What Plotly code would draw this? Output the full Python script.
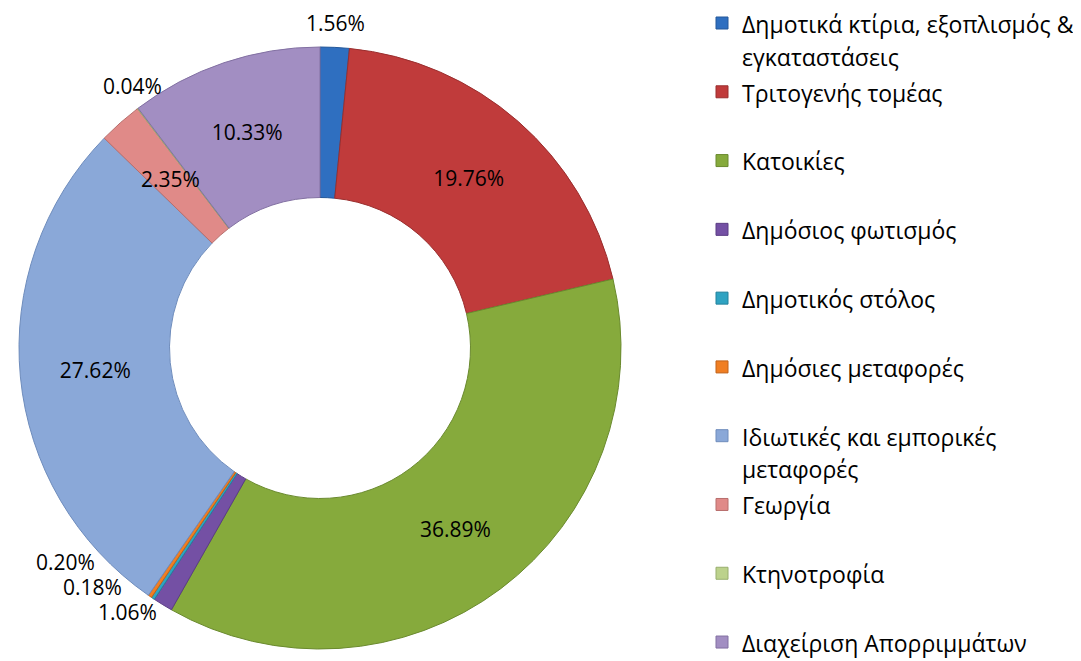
import math
import plotly.graph_objects as go

categories = [
    "Δημοτικά κτίρια, εξοπλισμός &<br>εγκαταστάσεις",
    "Τριτογενής τομέας",
    "Κατοικίες",
    "Δημόσιος φωτισμός",
    "Δημοτικός στόλος",
    "Δημόσιες μεταφορές",
    "Ιδιωτικές και εμπορικές<br>μεταφορές",
    "Γεωργία",
    "Κτηνοτροφία",
    "Διαχείριση Απορριμμάτων",
]
values = [1.56, 19.76, 36.89, 1.06, 0.18, 0.20, 27.62, 2.35, 0.04, 10.33]
colors = ["#2F6FC0", "#C03B3B", "#86AA3C", "#7450A4", "#2FA3C2", "#F07E22",
          "#8AA8D8", "#E08A88", "#BCD28C", "#A28EC2"]
edge = ["#24589A", "#9A2E2E", "#6A8A2E", "#5A3C84", "#23829C", "#C0621A",
        "#6E8CBC", "#B86E6C", "#98AE6E", "#8270A2"]
# label placement per slice: "inside" drawn by plotly, "ring" / "outside" as annotations
placement = ["outside", "inside", "inside", "outside", "outside", "outside",
             "inside", "ring", "outside", "inside"]

W, H = 1081, 661
dom_x = [11 / W, 613 / W]
dom_y = [1 - 641 / H, 1 - 39 / H]
HOLE = 0.5

legend_labels = []
for i, c in enumerate(categories):
    txt = "<span style='font-size:23px'>" + c + "</span>"
    if c.count("<br>") == 0 and i < len(categories) - 1:
        txt += "<br> "
    legend_labels.append(txt)

pct = [f"{v:.2f}%" for v in values]

fig = go.Figure(go.Pie(
    labels=legend_labels,
    values=values,
    text=[p if pl == "inside" else "" for p, pl in zip(pct, placement)],
    textinfo="text",
    textposition="inside",
    insidetextorientation="horizontal",
    sort=False,
    direction="clockwise",
    rotation=0,
    hole=HOLE,
    marker=dict(colors=colors, line=dict(color=edge, width=1)),
    textfont=dict(family="Open Sans", size=21, color="#000000"),
    domain=dict(x=dom_x, y=dom_y),
    hoverinfo="percent",
))

# geometry of the pie from its domain (pixels)
cx = (dom_x[0] + dom_x[1]) / 2 * W
cy = (1 - (dom_y[0] + dom_y[1]) / 2) * H
r_out = min((dom_x[1] - dom_x[0]) * W, (dom_y[1] - dom_y[0]) * H) / 2
r_in = r_out * HOLE
r_mid = (r_in + r_out) / 2
total = sum(values)

outside = []
cum = 0.0
for i, v in enumerate(values):
    ang = 2 * math.pi * (cum + v / 2) / total
    cum += v
    s, c = math.sin(ang), math.cos(ang)
    if placement[i] == "ring":
        px, py = cx + r_mid * s, cy - r_mid * c
        fig.add_annotation(x=px / W, y=1 - py / H, xref="paper", yref="paper",
                           text=pct[i], showarrow=False, xanchor="center",
                           yanchor="middle",
                           font=dict(family="Open Sans", size=21, color="#000"))
    elif placement[i] == "outside":
        rr = r_out + 8
        outside.append([i, cx + rr * s, cy - rr * c, s, c])

# simple overlap avoidance for outside labels on the lower-left side
lower = sorted([o for o in outside if o[4] < 0], key=lambda o: -o[2])
for k in range(1, len(lower)):
    prev_y = lower[k - 1][2]
    if prev_y - lower[k][2] < 25:
        lower[k][2] = prev_y - 25
        dy = lower[k][2] - cy
        rr = r_out + 8
        lower[k][1] = cx - math.sqrt(max(rr * rr - dy * dy, 0))

for i, px, py, s, c in outside:
    if abs(s) < 0.65 and c > 0:
        xa = "center"
    else:
        xa = "left" if s > 0 else "right"
    ya = "bottom" if c > 0.7 else "middle"
    fig.add_annotation(x=px / W, y=1 - py / H, xref="paper", yref="paper",
                       text=pct[i], showarrow=False, xanchor=xa, yanchor=ya,
                       font=dict(family="Open Sans", size=21, color="#000"))

fig.update_layout(
    width=W, height=H,
    margin=dict(l=0, r=0, t=0, b=0, autoexpand=False),
    paper_bgcolor="white",
    plot_bgcolor="white",
    font=dict(family="Open Sans", color="#000000"),
    legend=dict(
        x=694 / W, y=1.012, xanchor="left", yanchor="top",
        valign="top",
        font=dict(family="Open Sans", size=25.3, color="#000000"),
        itemwidth=30,
        traceorder="normal",
        maxheight=2000,
    ),
)

fig.write_html("out.html")
